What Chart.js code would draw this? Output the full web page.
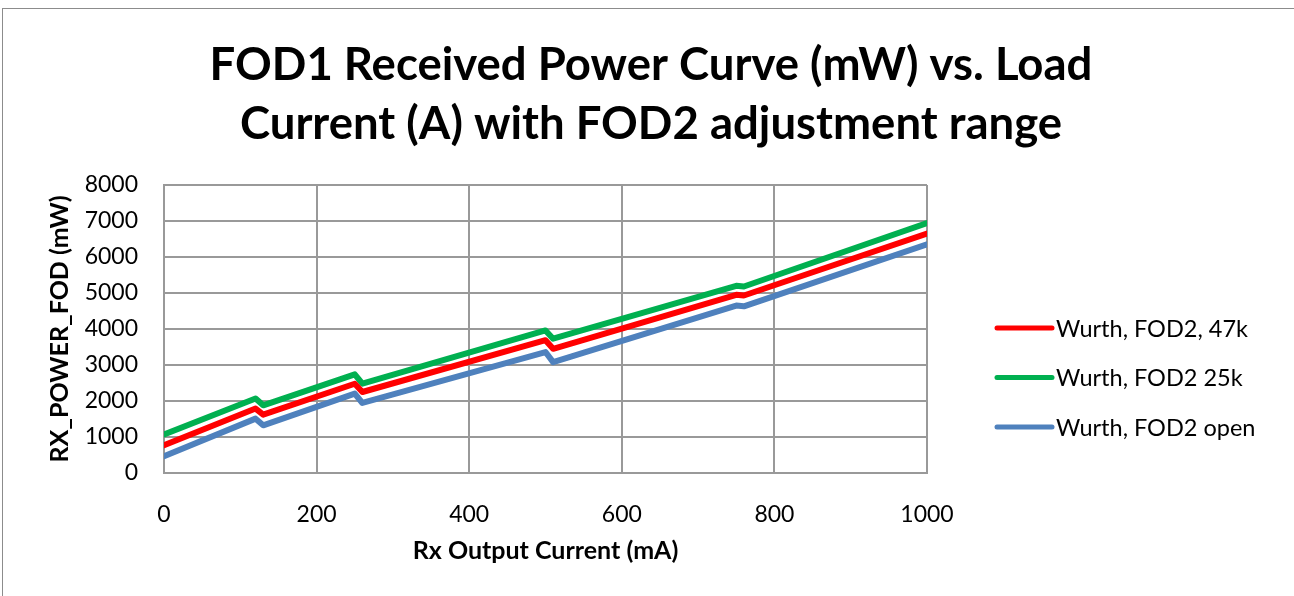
<!DOCTYPE html>
<html>
<head>
<meta charset="utf-8">
<script src="https://cdn.jsdelivr.net/npm/chart.js@4/dist/chart.umd.min.js"></script>
<style>
  html, body { margin:0; padding:0; background:#fff; overflow:hidden; }
  #wrap { position:relative; width:1294px; height:596px; }
  #frame { position:absolute; left:2px; top:8px; width:1400px; height:700px; border-top:1px solid #8c8c8c; border-left:1px solid #8c8c8c; pointer-events:none; }
  canvas { position:absolute; left:0; top:0; }
</style>
</head>
<body>
<div id="wrap">
  <div id="frame"></div>
  <canvas id="chart" width="1294" height="596"></canvas>
</div>
<script>
// Rx output current (mA) — breakpoints where FOD adjusts
const currents = [0, 120, 130, 250, 260, 500, 510, 750, 760, 1000];

// received power (mW) per series
const fod47k  = [770, 1790, 1620, 2480, 2250, 3690, 3450, 4950, 4930, 6650];
const fod25k  = [1070, 2070, 1880, 2740, 2480, 3960, 3730, 5200, 5180, 6945];
const fodOpen = [465, 1510, 1325, 2205, 1945, 3360, 3080, 4650, 4630, 6355];

const seriesLabels = ['Wurth, FOD2, 47k', 'Wurth, FOD2 25k', 'Wurth, FOD2 open'];
const seriesColors = ['#ff0000', '#00b050', '#4f81bd'];

const titleLines = ['FOD1 Received Power Curve (mW) vs. Load', 'Current (A) with FOD2 adjustment range'];
const xTitle = 'Rx Output Current (mA)';
const yTitle = 'RX_POWER_FOD (mW)';

const FONT = 'Lato, "Open Sans", sans-serif';
const GRID = '#999999';

const toPts = arr => currents.map((c, i) => ({ x: c, y: arr[i] }));

// title + legend drawn on the canvas
const decor = {
  id: 'decor',
  afterDraw(chart) {
    const ctx = chart.ctx;
    ctx.save();
    ctx.fillStyle = '#000';
    ctx.textAlign = 'center';
    ctx.textBaseline = 'middle';
    ctx.font = 'bold 45.5px ' + FONT;
    titleLines.forEach((t, i) => ctx.fillText(t, 651, 65 + i * 59));

    ctx.textAlign = 'left';
    ctx.font = '23.5px ' + FONT;
    chart.data.datasets.forEach((ds, i) => {
      const y = 328 + i * 49.5;
      ctx.strokeStyle = ds.borderColor;
      ctx.lineWidth = 5;
      ctx.lineCap = 'round';
      ctx.beginPath(); ctx.moveTo(997, y); ctx.lineTo(1052, y); ctx.stroke();
      ctx.fillStyle = '#000';
      ctx.fillText(ds.label, 1056, y + 1);
    });
    ctx.restore();
  }
};

new Chart(document.getElementById('chart').getContext('2d'), {
  type: 'line',
  data: {
    datasets: [fod47k, fod25k, fodOpen].map((arr, i) => ({
      label: seriesLabels[i],
      data: toPts(arr),
      borderColor: seriesColors[i],
      backgroundColor: seriesColors[i],
      borderWidth: 6,
      pointRadius: 0,
      tension: 0,
      borderJoinStyle: 'round',
      borderCapStyle: 'round'
    }))
  },
  options: {
    responsive: false,
    animation: false,
    layout: { padding: { left: 30, right: 367, top: 185, bottom: 20 } },
    plugins: { legend: { display: false }, title: { display: false }, tooltip: { enabled: false } },
    scales: {
      x: {
        type: 'linear', min: 0, max: 1000,
        afterFit: s => { s.height = 103; },
        ticks: { stepSize: 200, padding: 28, color: '#000', font: { family: FONT, size: 23 }, maxRotation: 0, callback: v => String(v) },
        grid: { color: GRID, lineWidth: 2, drawTicks: false },
        border: { color: GRID, width: 2 },
        title: { display: true, text: xTitle, color: '#000', font: { family: FONT, size: 25, weight: 'bold' }, padding: { top: 0, bottom: 10 } }
      },
      y: {
        min: 0, max: 8000,
        afterFit: s => { s.width = 134; },
        ticks: { stepSize: 1000, padding: 26, color: '#000', font: { family: FONT, size: 23 }, callback: v => String(v) },
        grid: { color: GRID, lineWidth: 2, drawTicks: false },
        border: { color: GRID, width: 2 },
        title: { display: true, text: yTitle, color: '#000', font: { family: FONT, size: 25, weight: 'bold' }, padding: { top: 15, bottom: 0 } }
      }
    }
  },
  plugins: [decor]
});
</script>
</body>
</html>
